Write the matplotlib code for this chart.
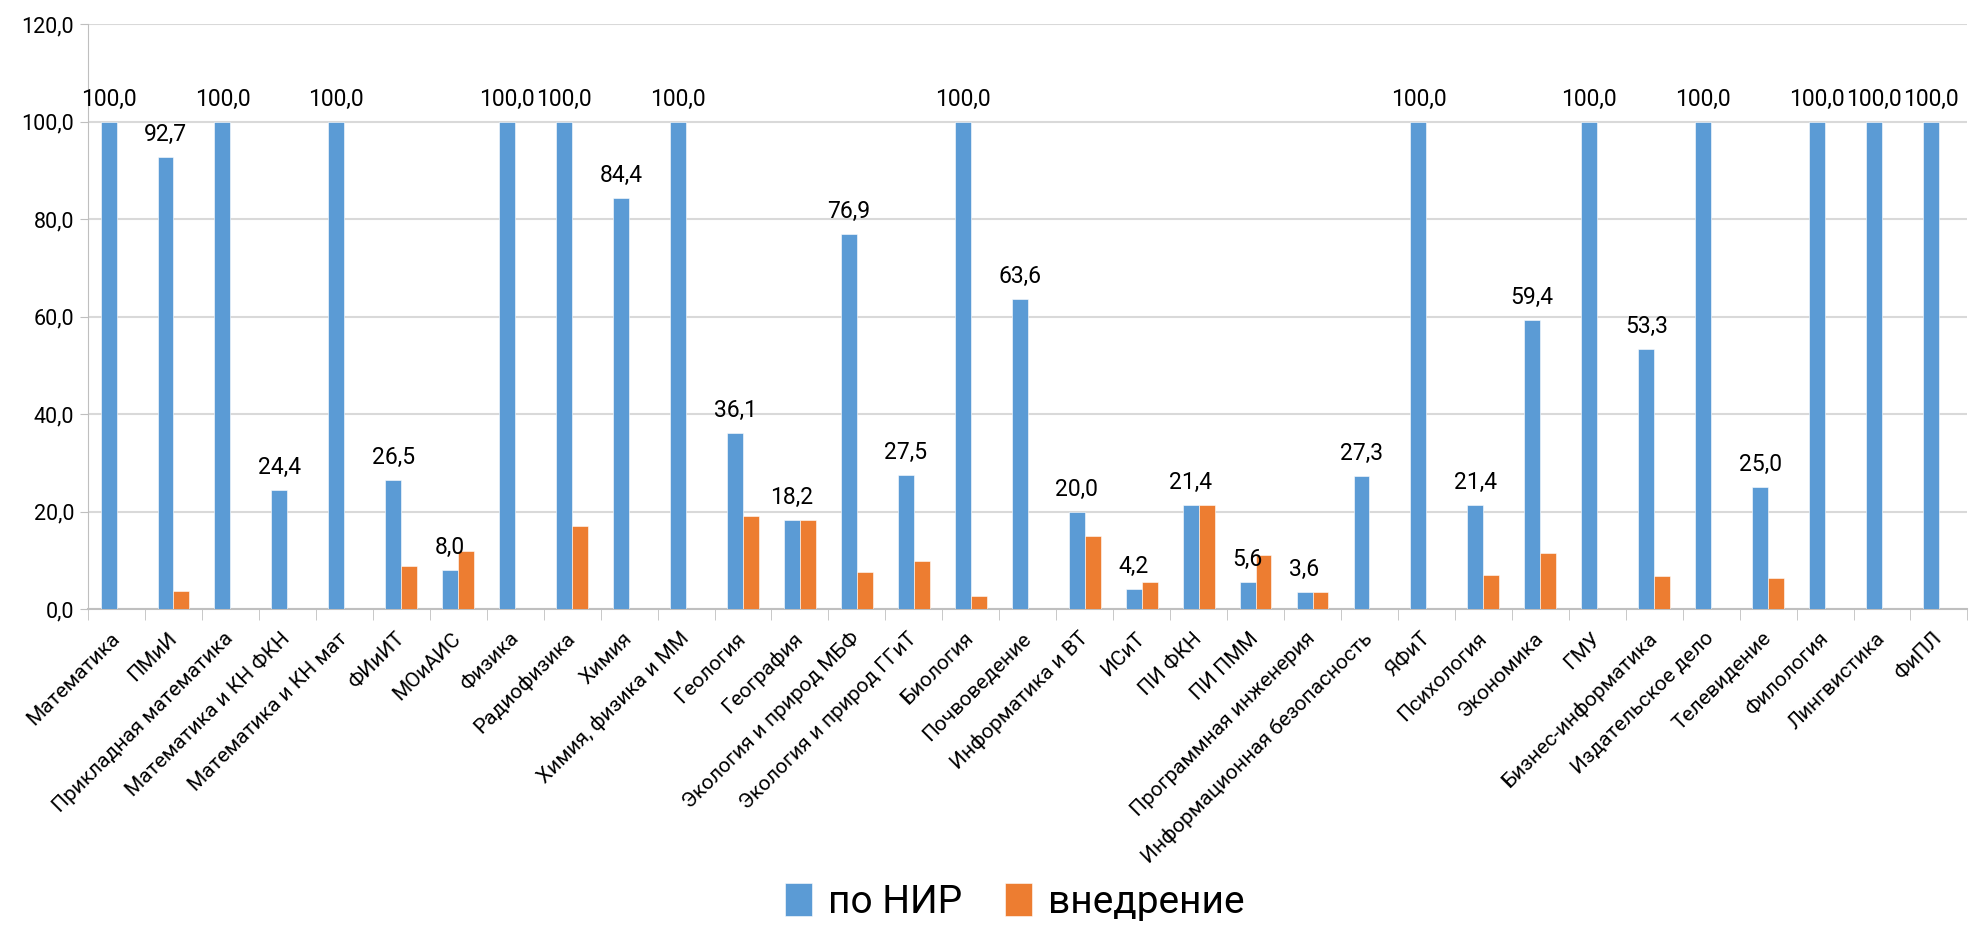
import matplotlib
matplotlib.use('Agg')
import matplotlib.pyplot as plt
import numpy as np

categories = ['Математика', 'ПМиИ', 'Прикладная математика', 'Математика и КН ФКН',
              'Математика и КН мат', 'ФИиИТ', 'МОиАИС', 'Физика', 'Радиофизика', 'Химия',
              'Химия, физика и ММ', 'Геология', 'География', 'Экология и природ МБФ',
              'Экология и природ ГГиТ', 'Биология', 'Почвоведение', 'Информатика и ВТ',
              'ИСиТ', 'ПИ ФКН', 'ПИ ПММ', 'Программная инженерия',
              'Информационная безопасность', 'ЯФиТ', 'Психология', 'Экономика', 'ГМУ',
              'Бизнес-информатика', 'Издательское дело', 'Телевидение', 'Филология',
              'Лингвистика', 'ФиПЛ']
nir = [100, 92.7, 100, 24.4, 100, 26.5, 8.0, 100, 100, 84.4, 100, 36.1, 18.2, 76.9,
       27.5, 100, 63.6, 20.0, 4.2, 21.4, 5.6, 3.6, 27.3, 100, 21.4, 59.4, 100, 53.3,
       100, 25.0, 100, 100, 100]
vnedrenie = [0, 3.7, 0, 0, 0, 8.8, 12.0, 0, 17.1, 0, 0, 19.2, 18.2, 7.7, 9.8, 2.6,
             0, 15.0, 5.6, 21.4, 11.1, 3.6, 0, 0, 7.1, 11.6, 0, 6.7, 0, 6.3, 0, 0, 0]
y_ticks = [0, 20, 40, 60, 80, 100, 120]

BLUE = '#5B9BD5'
ORANGE = '#ED7D31'
plt.rcParams['font.family'] = ['Roboto', 'DejaVu Sans']

fig = plt.figure(figsize=(19.7, 9.3), dpi=100)
ax = fig.add_axes([0.0447, 0.345, 0.954, 0.629])

x = np.arange(len(categories))
w = 0.28
b1 = ax.bar(x - w / 2, nir, w, color=BLUE, edgecolor='white', linewidth=0.4, label='по НИР', zorder=3)
b2 = ax.bar(x + w / 2, vnedrenie, w, color=ORANGE, edgecolor='white', linewidth=0.4, label='внедрение', zorder=3)

# подписи только для синих столбцов
for xi, v in zip(x, nir):
    ax.annotate(f'{v:.1f}'.replace('.', ','), (xi - w / 2, v), xytext=(0, 8),
                textcoords='offset points', ha='center', va='bottom', fontsize=16.5)

ax.set_xlim(-0.5, len(categories) - 0.5)
ax.set_ylim(0, 120)
ax.set_yticks(y_ticks)
ax.set_yticklabels([f'{t:.1f}'.replace('.', ',') for t in y_ticks], fontsize=15.5)
ax.yaxis.grid(True, color='#d9d9d9', linewidth=1.5, zorder=0)

ax.set_xticks(x)
ax.set_xticklabels(categories, rotation=45, ha='right', va='center',
                   rotation_mode='anchor', fontsize=15)
ax.set_xticks(np.arange(len(categories) + 1) - 0.5, minor=True)
ax.tick_params(axis='x', which='major', length=0, pad=19)
ax.tick_params(axis='x', which='minor', length=8, color='#bfbfbf')
ax.tick_params(axis='y', length=6, color='#bfbfbf', pad=4)

for s in ['top', 'right']:
    ax.spines[s].set_visible(False)
ax.spines['left'].set_color('#bfbfbf')
ax.spines['bottom'].set_color('#bfbfbf')
ax.spines['bottom'].set_linewidth(1.5)

fig.legend(handles=[b1, b2], loc='center', bbox_to_anchor=(0.515, 0.03), ncol=2,
           frameon=False, fontsize=28, handlelength=0.7, handleheight=0.9,
           handletextpad=0.4, columnspacing=1.1)

plt.savefig('out.png', dpi=100)
plt.close()
